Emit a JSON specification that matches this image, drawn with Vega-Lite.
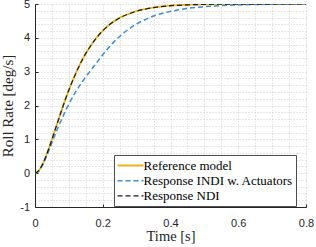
{
  "$schema": "https://vega.github.io/schema/vega-lite/v6.json",
  "width": 271,
  "height": 203,
  "autosize": {"type": "none"},
  "padding": {"left": 35, "top": 4, "right": 10, "bottom": 40},
  "background": "white",
  "config": {"view": {"stroke": null}},
  "data": {"values": [
    {"t":0,"v":0,"s":"Reference model"},
    {"t":0.01,"v":0.061,"s":"Reference model"},
    {"t":0.02,"v":0.22,"s":"Reference model"},
    {"t":0.03,"v":0.44,"s":"Reference model"},
    {"t":0.04,"v":0.71,"s":"Reference model"},
    {"t":0.05,"v":1.00,"s":"Reference model"},
    {"t":0.06,"v":1.30,"s":"Reference model"},
    {"t":0.07,"v":1.60,"s":"Reference model"},
    {"t":0.08,"v":1.90,"s":"Reference model"},
    {"t":0.09,"v":2.19,"s":"Reference model"},
    {"t":0.10,"v":2.46,"s":"Reference model"},
    {"t":0.12,"v":2.94,"s":"Reference model"},
    {"t":0.14,"v":3.36,"s":"Reference model"},
    {"t":0.16,"v":3.70,"s":"Reference model"},
    {"t":0.18,"v":3.98,"s":"Reference model"},
    {"t":0.20,"v":4.21,"s":"Reference model"},
    {"t":0.22,"v":4.39,"s":"Reference model"},
    {"t":0.24,"v":4.53,"s":"Reference model"},
    {"t":0.26,"v":4.64,"s":"Reference model"},
    {"t":0.28,"v":4.72,"s":"Reference model"},
    {"t":0.30,"v":4.79,"s":"Reference model"},
    {"t":0.33,"v":4.86,"s":"Reference model"},
    {"t":0.36,"v":4.91,"s":"Reference model"},
    {"t":0.40,"v":4.95,"s":"Reference model"},
    {"t":0.45,"v":4.975,"s":"Reference model"},
    {"t":0.50,"v":4.988,"s":"Reference model"},
    {"t":0.55,"v":4.994,"s":"Reference model"},
    {"t":0.60,"v":4.997,"s":"Reference model"},
    {"t":0.65,"v":4.998,"s":"Reference model"},
    {"t":0.70,"v":4.999,"s":"Reference model"},
    {"t":0.75,"v":5.0,"s":"Reference model"},
    {"t":0.80,"v":5.0,"s":"Reference model"},
    {"t":0,"v":0,"s":"Response INDI w. Actuators"},
    {"t":0.01,"v":0.05,"s":"Response INDI w. Actuators"},
    {"t":0.02,"v":0.19,"s":"Response INDI w. Actuators"},
    {"t":0.03,"v":0.40,"s":"Response INDI w. Actuators"},
    {"t":0.04,"v":0.64,"s":"Response INDI w. Actuators"},
    {"t":0.05,"v":0.90,"s":"Response INDI w. Actuators"},
    {"t":0.06,"v":1.15,"s":"Response INDI w. Actuators"},
    {"t":0.07,"v":1.40,"s":"Response INDI w. Actuators"},
    {"t":0.08,"v":1.62,"s":"Response INDI w. Actuators"},
    {"t":0.09,"v":1.84,"s":"Response INDI w. Actuators"},
    {"t":0.10,"v":2.04,"s":"Response INDI w. Actuators"},
    {"t":0.12,"v":2.40,"s":"Response INDI w. Actuators"},
    {"t":0.14,"v":2.71,"s":"Response INDI w. Actuators"},
    {"t":0.16,"v":2.98,"s":"Response INDI w. Actuators"},
    {"t":0.18,"v":3.24,"s":"Response INDI w. Actuators"},
    {"t":0.20,"v":3.50,"s":"Response INDI w. Actuators"},
    {"t":0.22,"v":3.74,"s":"Response INDI w. Actuators"},
    {"t":0.24,"v":3.95,"s":"Response INDI w. Actuators"},
    {"t":0.26,"v":4.13,"s":"Response INDI w. Actuators"},
    {"t":0.28,"v":4.28,"s":"Response INDI w. Actuators"},
    {"t":0.30,"v":4.41,"s":"Response INDI w. Actuators"},
    {"t":0.33,"v":4.56,"s":"Response INDI w. Actuators"},
    {"t":0.36,"v":4.68,"s":"Response INDI w. Actuators"},
    {"t":0.40,"v":4.78,"s":"Response INDI w. Actuators"},
    {"t":0.45,"v":4.87,"s":"Response INDI w. Actuators"},
    {"t":0.50,"v":4.92,"s":"Response INDI w. Actuators"},
    {"t":0.55,"v":4.955,"s":"Response INDI w. Actuators"},
    {"t":0.60,"v":4.974,"s":"Response INDI w. Actuators"},
    {"t":0.65,"v":4.985,"s":"Response INDI w. Actuators"},
    {"t":0.70,"v":4.991,"s":"Response INDI w. Actuators"},
    {"t":0.75,"v":4.995,"s":"Response INDI w. Actuators"},
    {"t":0.80,"v":4.997,"s":"Response INDI w. Actuators"},
    {"t":0,"v":0,"s":"Response NDI"},
    {"t":0.01,"v":0.061,"s":"Response NDI"},
    {"t":0.02,"v":0.22,"s":"Response NDI"},
    {"t":0.03,"v":0.44,"s":"Response NDI"},
    {"t":0.04,"v":0.71,"s":"Response NDI"},
    {"t":0.05,"v":1.00,"s":"Response NDI"},
    {"t":0.06,"v":1.30,"s":"Response NDI"},
    {"t":0.07,"v":1.60,"s":"Response NDI"},
    {"t":0.08,"v":1.90,"s":"Response NDI"},
    {"t":0.09,"v":2.19,"s":"Response NDI"},
    {"t":0.10,"v":2.46,"s":"Response NDI"},
    {"t":0.12,"v":2.94,"s":"Response NDI"},
    {"t":0.14,"v":3.36,"s":"Response NDI"},
    {"t":0.16,"v":3.70,"s":"Response NDI"},
    {"t":0.18,"v":3.98,"s":"Response NDI"},
    {"t":0.20,"v":4.21,"s":"Response NDI"},
    {"t":0.22,"v":4.39,"s":"Response NDI"},
    {"t":0.24,"v":4.53,"s":"Response NDI"},
    {"t":0.26,"v":4.64,"s":"Response NDI"},
    {"t":0.28,"v":4.72,"s":"Response NDI"},
    {"t":0.30,"v":4.79,"s":"Response NDI"},
    {"t":0.33,"v":4.86,"s":"Response NDI"},
    {"t":0.36,"v":4.91,"s":"Response NDI"},
    {"t":0.40,"v":4.95,"s":"Response NDI"},
    {"t":0.45,"v":4.975,"s":"Response NDI"},
    {"t":0.50,"v":4.988,"s":"Response NDI"},
    {"t":0.55,"v":4.994,"s":"Response NDI"},
    {"t":0.60,"v":4.997,"s":"Response NDI"},
    {"t":0.65,"v":4.998,"s":"Response NDI"},
    {"t":0.70,"v":4.999,"s":"Response NDI"},
    {"t":0.75,"v":5.0,"s":"Response NDI"},
    {"t":0.80,"v":5.0,"s":"Response NDI"}
  ]},
  "mark": {"type": "line", "interpolate": "monotone", "clip": true},
  "encoding": {
    "x": {
      "field": "t", "type": "quantitative",
      "scale": {"domain": [0, 0.8], "nice": false, "zero": false},
      "axis": {
        "values": [0,0.05,0.1,0.15,0.2,0.25,0.3,0.35,0.4,0.45,0.5,0.55,0.6,0.65,0.7,0.75,0.8],
        "labelExpr": "abs(datum.value*5 - round(datum.value*5)) < 0.001 ? format(datum.value, '.1~f') : ''",
        "grid": true, "gridColor": "#d0d0d0", "gridDash": [1, 2], "gridWidth": 1,
        "domainColor": "#262626", "tickColor": "#262626", "tickSize": -3,
        "tickOpacity": {"condition": {"test": "abs(datum.value*5 - round(datum.value*5)) < 0.001", "value": 1}, "value": 0},
        "labelFont": "Liberation Sans", "labelFontSize": 11, "labelColor": "#262626",
        "labelPadding": 13, "labelOverlap": false, "labelFlush": false,
        "title": "Time [s]", "titleFont": "Liberation Serif", "titleFontSize": 14.5,
        "titleFontWeight": "normal", "titleColor": "#262626", "titlePadding": 1
      }
    },
    "y": {
      "field": "v", "type": "quantitative",
      "scale": {"domain": [-1, 5], "nice": false, "zero": false},
      "axis": {
        "values": [-1,-0.8,-0.6,-0.4,-0.2,0,0.2,0.4,0.6,0.8,1,1.2,1.4,1.6,1.8,2,2.2,2.4,2.6,2.8,3,3.2,3.4,3.6,3.8,4,4.2,4.4,4.6,4.8,5],
        "labelExpr": "abs(datum.value - round(datum.value)) < 0.001 ? '' + round(datum.value) : ''",
        "grid": true, "gridColor": "#d0d0d0", "gridDash": [1, 2], "gridWidth": 1,
        "domainColor": "#262626", "tickColor": "#262626", "tickSize": -3,
        "tickOpacity": {"condition": {"test": "abs(datum.value - round(datum.value)) < 0.001", "value": 1}, "value": 0},
        "labelFont": "Liberation Sans", "labelFontSize": 11, "labelColor": "#262626",
        "labelPadding": 8.5, "labelOverlap": false, "labelFlush": false,
        "title": "Roll Rate [deg/s]", "titleFont": "Liberation Serif", "titleFontSize": 15,
        "titleFontWeight": "normal", "titleColor": "#262626", "titlePadding": 4.5
      }
    },
    "color": {
      "field": "s", "type": "nominal",
      "scale": {"domain": ["Reference model", "Response INDI w. Actuators", "Response NDI"], "range": ["#EDB120", "#3C8DD5", "#1a1a1a"]},
      "legend": {
        "orient": "none", "legendX": 79, "legendY": 151, "title": null,
        "fillColor": "white", "strokeColor": "#4d4d4d", "padding": 2.5,
        "symbolType": "M-1.857,0H1.857", "symbolSize": 196, "symbolOffset": 6,
        "labelFont": "Liberation Serif", "labelFontSize": 13, "labelColor": "black",
        "rowPadding": 0.2, "labelOffset": 5, "labelLimit": 300
      }
    },
    "strokeDash": {
      "field": "s", "type": "nominal",
      "scale": {"domain": ["Reference model", "Response INDI w. Actuators", "Response NDI"], "range": [[1, 0], [5, 3], [5, 3]]}
    },
    "strokeWidth": {
      "field": "s", "type": "nominal",
      "scale": {"domain": ["Reference model", "Response INDI w. Actuators", "Response NDI"], "range": [1.8, 1.2, 1.2]}
    }
  }
}
